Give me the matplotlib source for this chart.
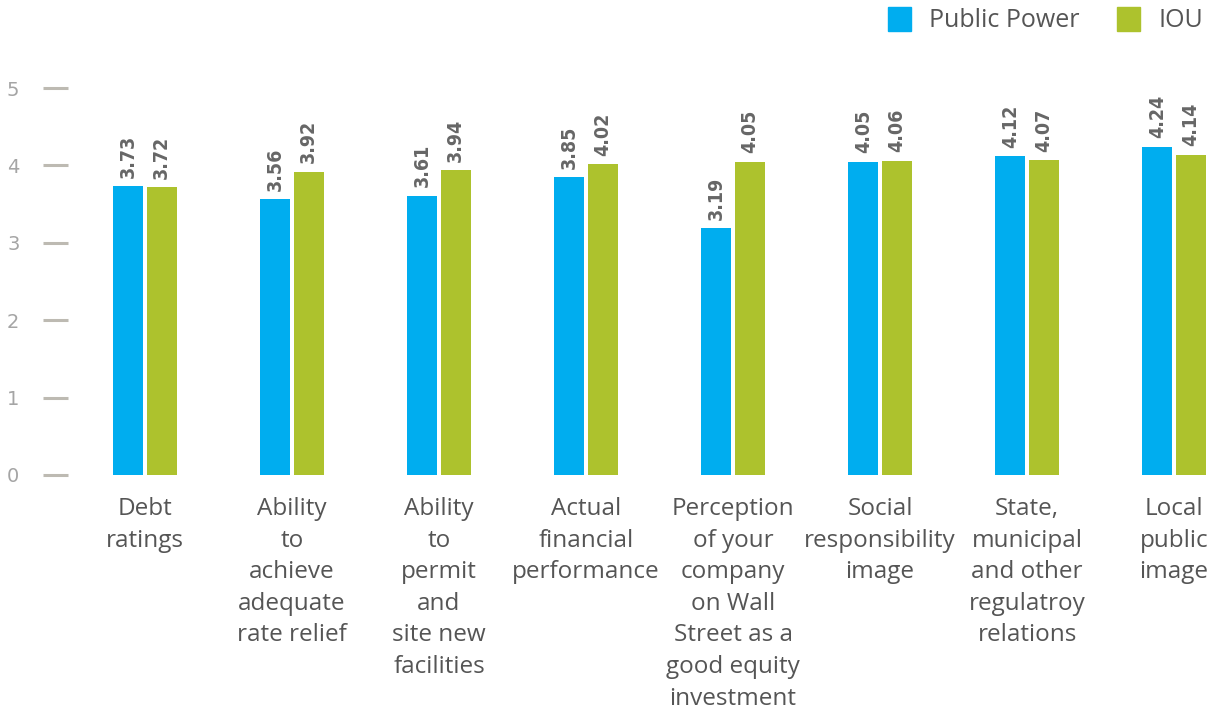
import numpy as np
import matplotlib
matplotlib.use("Agg")
import matplotlib.pyplot as plt
from matplotlib.patches import Patch

categories = [
    "Debt\nratings",
    "Ability\nto\nachieve\nadequate\nrate relief",
    "Ability\nto\npermit\nand\nsite new\nfacilities",
    "Actual\nfinancial\nperformance",
    "Perception\nof your\ncompany\non Wall\nStreet as a\ngood equity\ninvestment",
    "Social\nresponsibility\nimage",
    "State,\nmunicipal\nand other\nregulatroy\nrelations",
    "Local\npublic\nimage",
]
public_power = [3.73, 3.56, 3.61, 3.85, 3.19, 4.05, 4.12, 4.24]
iou = [3.72, 3.92, 3.94, 4.02, 4.05, 4.06, 4.07, 4.14]
y_ticks = [0, 1, 2, 3, 4, 5]

BLUE = "#00adef"
GREEN = "#adc22d"
TEXT = "#555555"

fig = plt.figure(figsize=(12.27, 7.14), dpi=100)
ax = fig.add_axes([68 / 1227, 239 / 714, (1227 - 68) / 1227, 387 / 714])

x = np.arange(len(categories))
w = 0.204
off = w / 2 + 0.011
b1 = ax.bar(x - off, public_power, w, color=BLUE, label="Public Power")
b2 = ax.bar(x + off, iou, w, color=GREEN, label="IOU")

# value labels, rotated, above each bar
for bars in (b1, b2):
    for rect in bars:
        h = rect.get_height()
        ax.annotate(f"{h:.2f}", (rect.get_x() + rect.get_width() / 2, h),
                    xytext=(0, 6), textcoords="offset points",
                    rotation=90, ha="center", va="bottom",
                    fontsize=14, fontweight="bold", fontstretch="condensed",
                    color="#666666", annotation_clip=False)

ax.set_xlim(-0.524, 7.36)
ax.set_ylim(0, 5)
ax.set_yticks(y_ticks)
ax.set_xticks(x)
ax.set_xticklabels(categories, fontsize=17.5, color=TEXT, family="Open Sans",
                   linespacing=1.42, va="top")
ax.tick_params(axis="x", length=0, pad=16)
ax.tick_params(axis="y", direction="out", length=18, width=2.2,
               color="#bdbab2", labelcolor="#a5a5a5", labelsize=14, pad=17)
for s in ax.spines.values():
    s.set_visible(False)

handles = [Patch(color=BLUE, label="Public Power"), Patch(color=GREEN, label="IOU")]
fig.legend(handles=handles, loc="upper right", bbox_to_anchor=(0.999, 1.022),
           ncol=2, frameon=False, handlelength=0.9, handleheight=1.1,
           handletextpad=0.75, columnspacing=1.5,
           prop={"family": "Open Sans", "size": 18}, labelcolor=TEXT)

fig.savefig("out.png", dpi=100)
